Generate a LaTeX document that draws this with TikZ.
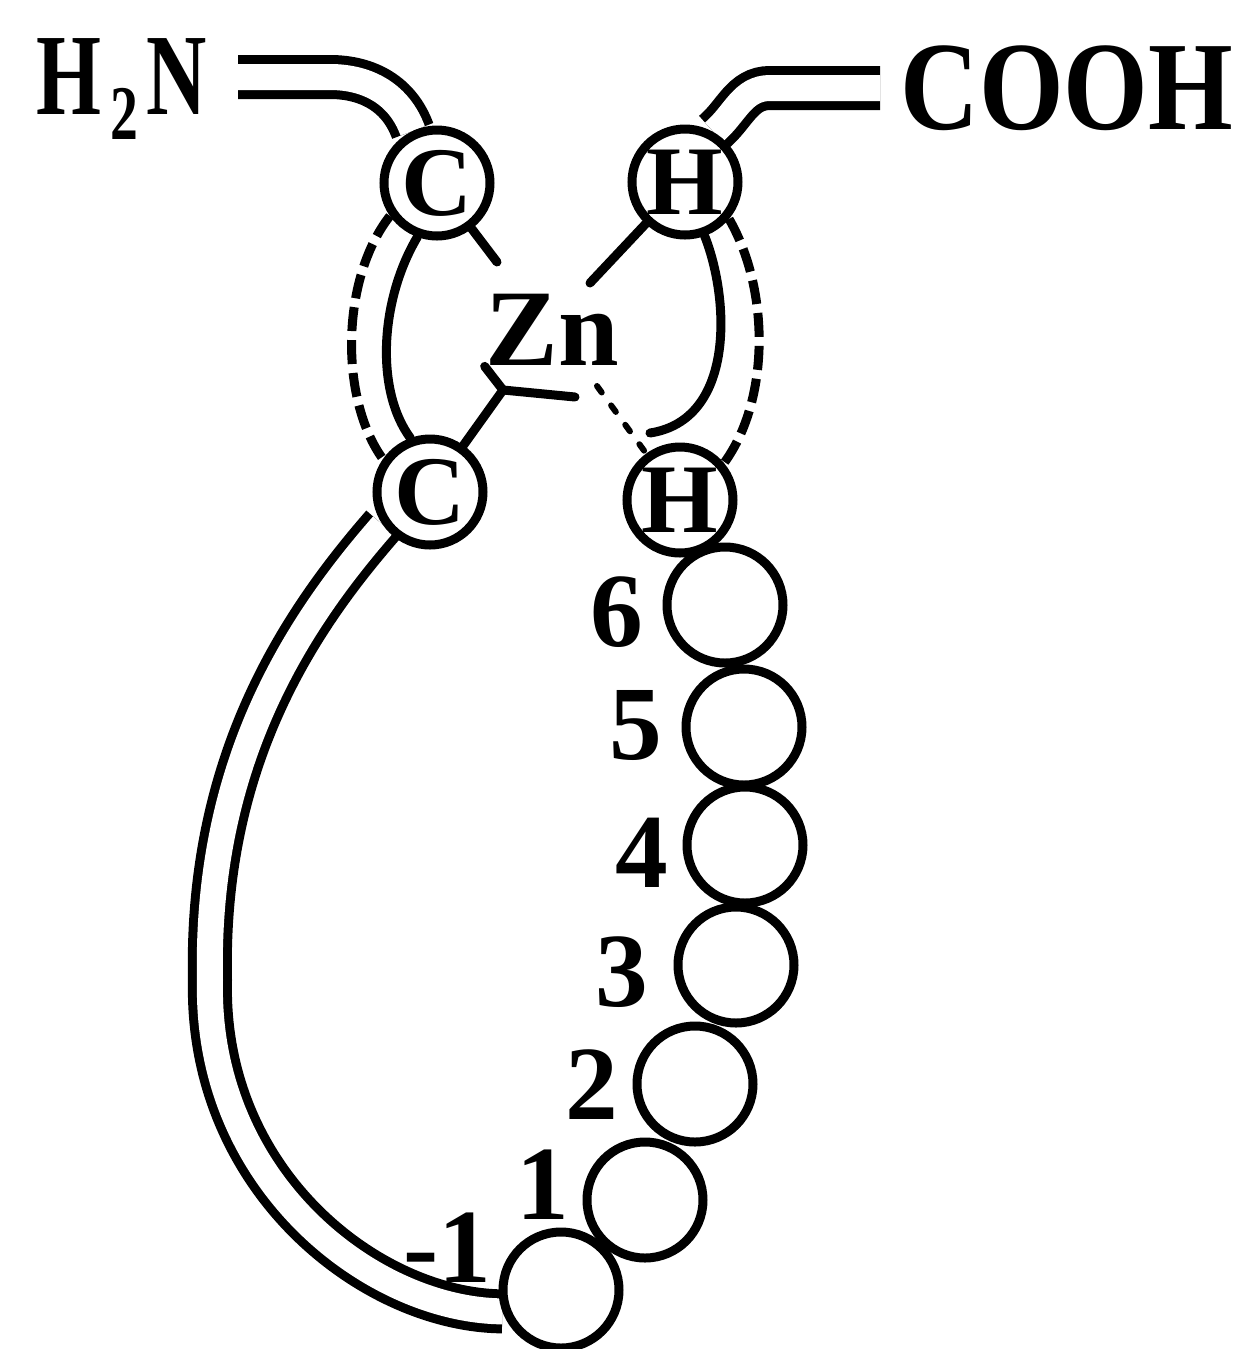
\documentclass[tikz,border=0pt]{standalone}
\usepackage{fontspec}
\setmainfont{Liberation Serif}
\usepackage{graphicx}
\usetikzlibrary{calc, backgrounds}
\tikzstyle{atom}=[draw, circle, line width=0.9mm, minimum size=10.6mm, inner sep=0pt, font=\fontsize{28}{28}\selectfont\bfseries]
\tikzstyle{link}=[draw, circle, line width=0.9mm, minimum size=11.6mm, inner sep=0pt]
\tikzstyle{num}=[inner sep=0pt, font=\fontsize{30}{30}\selectfont\bfseries]
\tikzstyle{bond}=[line width=0.9mm, line cap=round]
\tikzstyle{weak}=[line width=0.9mm, dash pattern=on 2.4mm off 0.9mm]
\tikzstyle{chain}=[line width=0.9mm, double, double distance=2.6mm]

\begin{document}
\begin{tikzpicture}[x=0.1mm, y=0.1mm]
  \useasboundingbox (0,0) rectangle (1252,-1349);

  % zinc site
  \node [atom] (c1) at (437,-183) {C};
  \node [atom] (h1) at (685,-182) {H};
  \node [atom] (c2) at (430,-492) {C};
  \node [atom] (h2) at (680,-500) {H};
  \node [num, font=\fontsize{31}{31}\selectfont\bfseries] (zn) at (552,-330) {Zn};

  % residues of the loop
  \node [link] (r6) at (725,-605) {};
  \node [link] (r5) at (744,-727) {};
  \node [link] (r4) at (745,-845) {};
  \node [link] (r3) at (736,-965) {};
  \node [link] (r2) at (695,-1084) {};
  \node [link] (r1) at (645,-1200) {};
  \node [link] (rm1) at (561,-1290) {};
  \node [num] (n6) at (617,-612) {6};
  \node [num] (n5) at (636,-725) {5};
  \node [num] (n4) at (642,-853) {4};
  \node [num] (n3) at (622,-972) {3};
  \node [num] (n2) at (592,-1085) {2};
  \node [num] (n1) at (543,-1185) {1};
  \node [num] (nm1) at (447,-1248) {-1};

  % ends of the chain
  \node [anchor=east, inner sep=3mm, font=\fontsize{33}{33}\selectfont\bfseries] (hn) at (238,-77)
    {\scalebox{0.72}[1]{H\kern3.5pt\raisebox{-7pt}[0pt][0pt]{\fontsize{22}{22}\selectfont 2}\kern3.5pt N}};
  \node [anchor=west, inner sep=2mm, font=\fontsize{36}{36}\selectfont\bfseries] (cooh) at (880,-88)
    {\scalebox{0.86}[1]{COOH}};

  \begin{scope}[on background layer]
    \draw [chain] (hn.east) -- (330,-77) to[out=0,in=110] (c1.115);
    \draw [chain] (cooh.west) -- (770,-88) to[out=180,in=40] (h1.60);
    \draw [chain] (c2.215) .. controls (300,-620) and (205,-760) .. (210,-980)
      .. controls (205,-1180) and (370,-1310) .. (rm1.200);
  \end{scope}

  % bonds to the zinc
  \coordinate (za) at (497,-262);
  \coordinate (zb) at (590,-283);
  \coordinate (zj) at (503,-390);
  \coordinate (zc) at (575,-397);
  \coordinate (zd) at (597,-386);
  \coordinate (hv) at (650,-433);
  \draw [bond] (c1) -- (za);
  \draw [bond] (h1) -- (zb);
  \draw [bond] (c2) -- (zj) -- (zn.south west);
  \draw [bond] (zj) -- (zc);
  \draw [bond, line width=0.6mm, dash pattern=on 0.8mm off 1.6mm] (zd) -- (h2);

  \draw [weak] (c1.215) .. controls (340,-280) and (340,-400) .. (c2.145);
  \draw [bond] (c1.250) .. controls (380,-300) and (375,-390) .. (c2.110);
  \draw [bond] (h1.-70) .. controls (730,-300) and (735,-420) .. (hv);
  \draw [weak] (h1.-40) .. controls (770,-290) and (770,-400) .. (h2.40);
\end{tikzpicture}
\end{document}
